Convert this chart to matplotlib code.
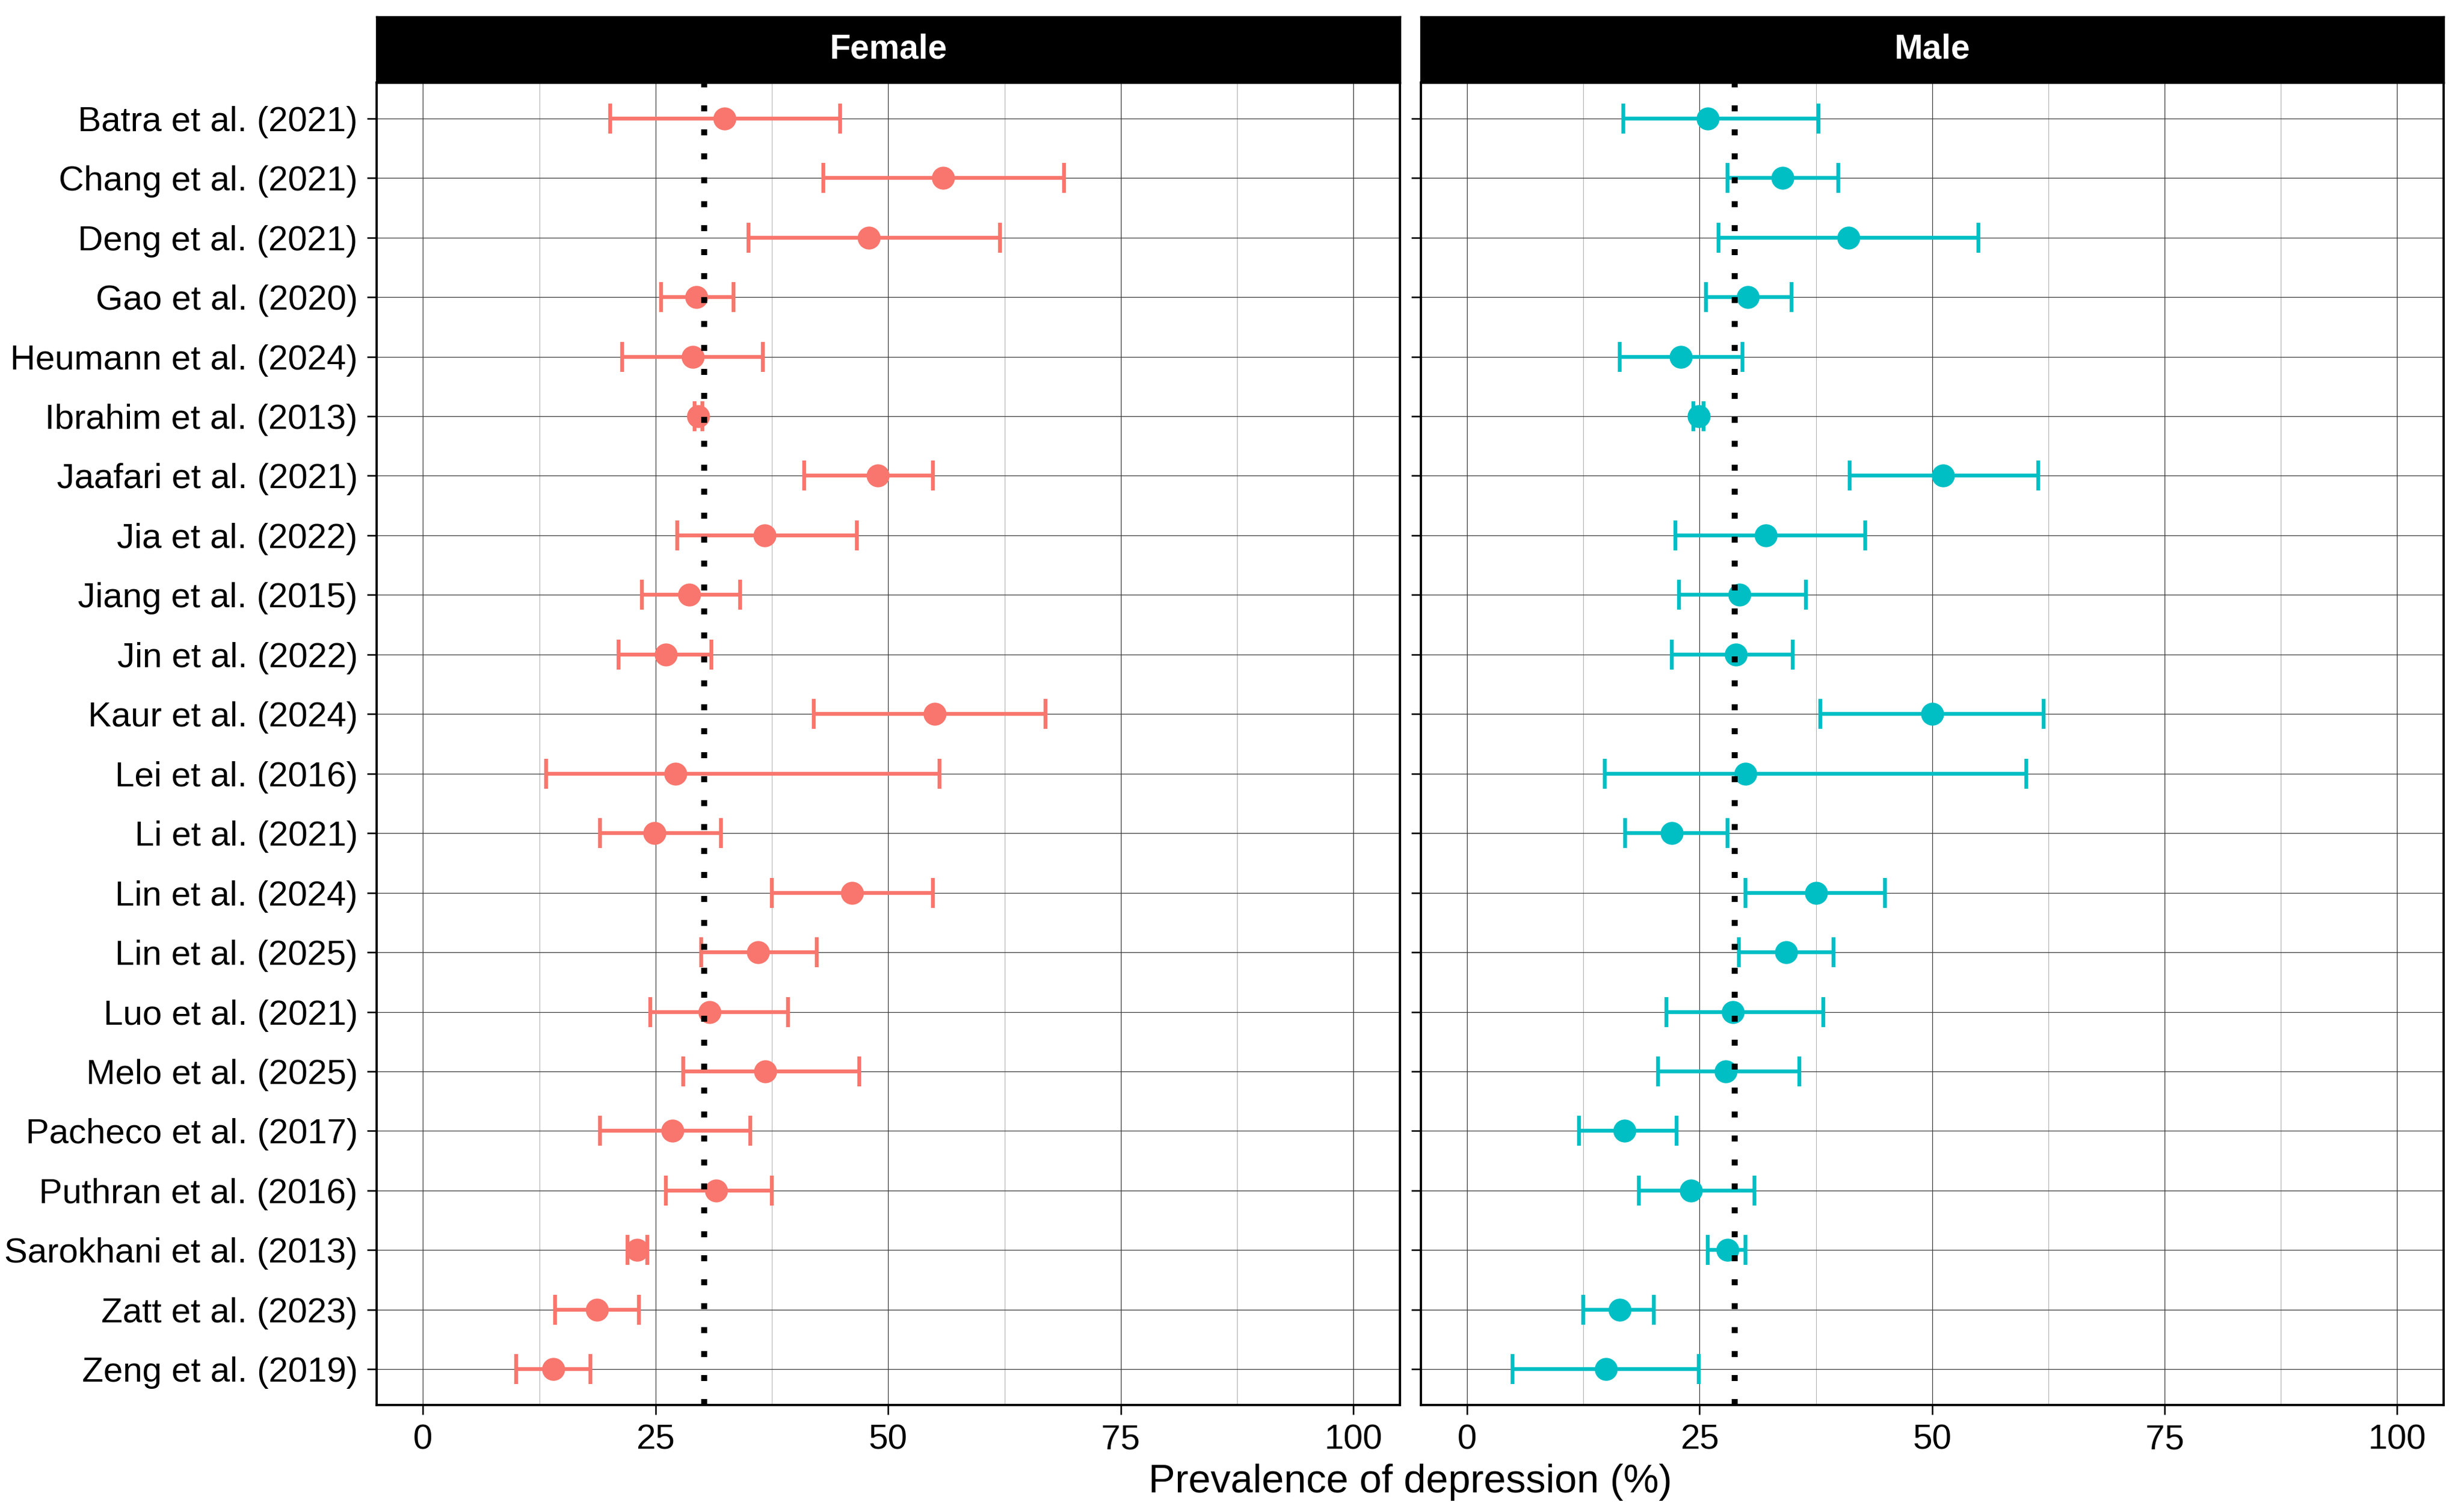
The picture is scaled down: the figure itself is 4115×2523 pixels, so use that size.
import matplotlib
matplotlib.use("Agg")
import matplotlib.pyplot as plt
from matplotlib.ticker import FixedLocator
import numpy as np

plt.rcParams['font.family'] = ['Liberation Sans', 'DejaVu Sans']

studies = ["Batra et al. (2021)", "Chang et al. (2021)", "Deng et al. (2021)", "Gao et al. (2020)",
           "Heumann et al. (2024)", "Ibrahim et al. (2013)", "Jaafari et al. (2021)", "Jia et al. (2022)",
           "Jiang et al. (2015)", "Jin et al. (2022)", "Kaur et al. (2024)", "Lei et al. (2016)",
           "Li et al. (2021)", "Lin et al. (2024)", "Lin et al. (2025)", "Luo et al. (2021)",
           "Melo et al. (2025)", "Pacheco et al. (2017)", "Puthran et al. (2016)", "Sarokhani et al. (2013)",
           "Zatt et al. (2023)", "Zeng et al. (2019)"]

female_est = [32.4, 55.9, 47.9, 29.4, 29.0, 29.6, 48.9, 36.7, 28.6, 26.1, 55.0, 27.1,
              24.9, 46.1, 36.0, 30.8, 36.8, 26.8, 31.5, 23.0, 18.7, 14.0]
female_lo = [20.1, 43.0, 35.0, 25.6, 21.4, 29.2, 41.0, 27.3, 23.5, 21.0, 42.0, 13.2,
             19.0, 37.5, 29.9, 24.4, 28.0, 19.0, 26.1, 22.0, 14.2, 10.0]
female_hi = [44.8, 68.9, 62.0, 33.4, 36.5, 30.0, 54.8, 46.6, 34.1, 31.0, 66.9, 55.5,
             32.0, 54.8, 42.3, 39.2, 46.9, 35.2, 37.5, 24.1, 23.2, 18.0]

male_est = [25.9, 33.9, 41.0, 30.2, 23.0, 24.9, 51.2, 32.1, 29.3, 28.9, 50.0, 29.9,
            22.0, 37.5, 34.3, 28.6, 27.8, 16.9, 24.1, 28.0, 16.4, 14.9]
male_lo = [16.8, 28.0, 27.0, 25.7, 16.4, 24.3, 41.1, 22.4, 22.8, 22.0, 38.0, 14.8,
           17.0, 29.9, 29.2, 21.4, 20.5, 12.0, 18.5, 25.9, 12.5, 4.9]
male_hi = [37.8, 39.9, 55.0, 34.9, 29.6, 25.4, 61.4, 42.8, 36.4, 35.0, 62.0, 60.1,
           28.0, 44.9, 39.4, 38.3, 35.7, 22.5, 30.9, 29.9, 20.1, 24.9]

panels = ["Female", "Male"]
pooled = [30.2, 28.8]
colors = ["#F8766D", "#00BFC4"]
x_ticks = [0, 25, 50, 75, 100]
x_label = "Prevalence of depression (%)"

W, H = 4115, 2523
fig = plt.figure(figsize=(W / 300, H / 300), dpi=300)

panel_x = [(628.7, 2338), (2372.5, 4081)]
p_top, p_bot, s_top = 138, 2346, 28

data = [(female_est, female_lo, female_hi), (male_est, male_lo, male_hi)]
ypos = np.arange(len(studies))

for i, (name, (x0, x1)) in enumerate(zip(panels, panel_x)):
    ax = fig.add_axes([x0 / W, 1 - p_bot / H, (x1 - x0) / W, (p_bot - p_top) / H])
    est, lo, hi = (np.array(a) for a in data[i])
    c = colors[i]
    ax.errorbar(est, ypos, xerr=[est - lo, hi - est], fmt='none', ecolor=c,
                elinewidth=1.55, capsize=5.9, capthick=1.55, zorder=3)
    ax.plot(est, ypos, 'o', ms=9.2, color=c, mec=c, mew=0, zorder=4)
    ax.axvline(pooled[i], color='black', lw=2.4, linestyle=(0, (1, 3)),
               dash_capstyle='butt', zorder=5)
    ax.set_xlim(-5, 105)
    ax.set_ylim(len(studies) - 0.4, -0.6)
    ax.xaxis.set_major_locator(FixedLocator(x_ticks))
    ax.xaxis.set_minor_locator(FixedLocator([12.5, 37.5, 62.5, 87.5]))
    ax.set_yticks(ypos)
    if i == 0:
        ax.set_yticklabels(studies, fontsize=14)
    else:
        ax.set_yticklabels([])
        ax.tick_params(axis='y', length=0)
    ax.set_xticklabels([str(t) for t in x_ticks], fontsize=14)
    ax.grid(which='major', color='#3a3a3a', lw=0.3)
    ax.grid(which='minor', axis='x', color='#b0b0b0', lw=0.25)
    ax.set_axisbelow(True)
    ax.tick_params(which='major', direction='out', length=3.9, width=0.6, pad=3.6, color='black')
    ax.tick_params(which='minor', length=0)
    for sp in ax.spines.values():
        sp.set_linewidth(0.9)
        sp.set_color('black')
    # strip
    sax = fig.add_axes([x0 / W, 1 - p_top / H, (x1 - x0) / W, (p_top - s_top) / H])
    sax.set_facecolor('black')
    sax.set_xticks([]); sax.set_yticks([])
    for sp in sax.spines.values():
        sp.set_color('black')
    sax.text(0.5, 0.5, name, color='white', fontsize=13.7, fontweight='bold',
             ha='center', va='center', transform=sax.transAxes)

fig.text(2355 / W, 1 - 2492 / H, x_label, ha='center', va='baseline', fontsize=16)

fig.savefig("out.png", dpi=300, facecolor='white')
